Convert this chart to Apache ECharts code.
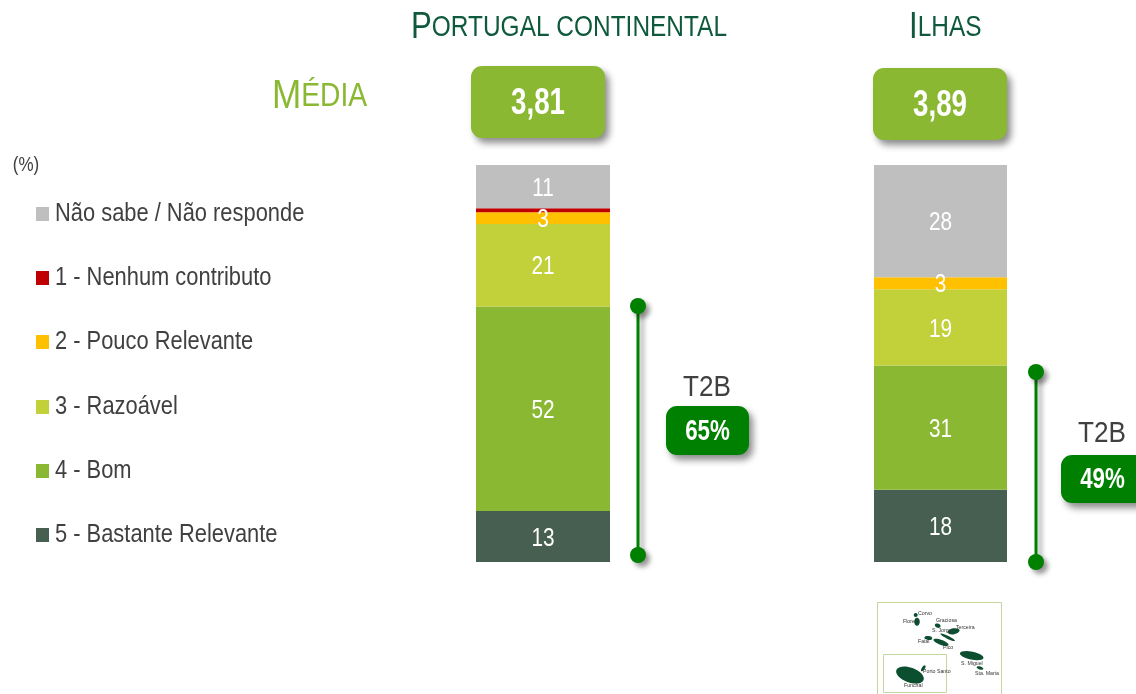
<!DOCTYPE html>
<html>
<head>
<meta charset="utf-8">
<style>html,body{margin:0;padding:0;background:#fff;overflow:hidden}#chart{width:1136px;height:694px}</style>
<script src="https://cdn.jsdelivr.net/npm/echarts@6/dist/echarts.min.js"></script>
</head>
<body>
<div id="chart"></div>
<script>
// categories, bottom of the stack first
var categories = ['5 - Bastante Relevante', '4 - Bom', '3 - Razoável', '2 - Pouco Relevante', '1 - Nenhum contributo', 'Não sabe / Não responde'];
var colors = ['#465f50', '#8bb833', '#c2d03a', '#ffc000', '#c00000', '#bfbfbf'];
var continente = [13, 52, 21, 3, 1, 11];
var ilhas = [18, 31, 19, 3, 0, 28];
var medias = ['3,81', '3,89'];
var t2b = ['65%', '49%'];

// no narrow face is installed, so text gets squeezed with scaleX
var FONT = '"Liberation Sans", Arial, sans-serif';
var NARROW = 0.8;
var DARK = '#0f5a3c', GREEN = '#008000', LIME = '#8bb833', TEXT = '#404040';

function sum(a) { return a.reduce(function (s, v) { return s + v; }, 0); }

// each column fills its own axis: the published figures are rounded and do not add to 100
function barSeries(values, axisIndex) {
    return categories.map(function (name, i) {
        return {
            name: name,
            type: 'bar',
            stack: 'col' + axisIndex,
            xAxisIndex: axisIndex,
            yAxisIndex: axisIndex,
            barWidth: '100%',
            itemStyle: { color: colors[i] },
            data: [values[i]]
        };
    });
}

// value labels, placed through the axis scale so they can be condensed
function labelSeries(values, axisIndex) {
    var base = 0, rows = [];
    values.forEach(function (v) {
        if (v > 1) rows.push([0, base + v / 2, v]);
        base += v;
    });
    return {
        type: 'custom',
        xAxisIndex: axisIndex,
        yAxisIndex: axisIndex,
        z: 5,
        silent: true,
        data: rows,
        renderItem: function (params, api) {
            var p = api.coord([api.value(0), api.value(1)]);
            return {
                type: 'text',
                x: p[0],
                y: p[1] + 2,
                scaleX: NARROW,
                style: {
                    text: String(api.value(2)),
                    fill: '#fff',
                    font: '26px ' + FONT,
                    textAlign: 'center',
                    textVerticalAlign: 'middle'
                }
            };
        }
    };
}

function label(text, x, y, size, fill, opts) {
    opts = opts || {};
    return {
        type: 'text',
        x: x,
        y: y,
        scaleX: opts.scale || NARROW,
        z: 10,
        style: {
            text: text,
            fill: fill,
            font: (opts.bold ? 'bold ' : '') + size + 'px ' + FONT,
            textAlign: opts.align || 'center',
            textVerticalAlign: 'middle'
        }
    };
}

function smallCaps(cap, rest, x, y, big, small, fill, scale) {
    return {
        type: 'text',
        x: x,
        y: y,
        scaleX: scale,
        style: {
            text: '{a|' + cap + '}{b|' + rest + '}',
            rich: {
                a: { fontFamily: FONT, fontSize: big, fill: fill, fontWeight: 'normal' },
                b: { fontFamily: FONT, fontSize: small, fill: fill, fontWeight: 'normal' }
            }
        }
    };
}

function badge(x, y, w, h, fill) {
    return {
        type: 'rect',
        shape: { x: x, y: y, width: w, height: h, r: 11 },
        style: { fill: fill, shadowBlur: 7, shadowOffsetX: 4, shadowOffsetY: 5, shadowColor: 'rgba(0,0,0,0.45)' }
    };
}

function bracket(x, y1, y2) {
    var shadow = { shadowBlur: 5, shadowOffsetX: 4, shadowOffsetY: 4, shadowColor: 'rgba(0,0,0,0.4)' };
    return [
        { type: 'line', shape: { x1: x, y1: y1, x2: x, y2: y2 }, style: Object.assign({ stroke: GREEN, lineWidth: 3 }, shadow) },
        { type: 'circle', shape: { cx: x, cy: y1, r: 8 }, style: Object.assign({ fill: GREEN }, shadow) },
        { type: 'circle', shape: { cx: x, cy: y2, r: 8 }, style: Object.assign({ fill: GREEN }, shadow) }
    ];
}

// legend drawn by hand, the built in one cannot condense its text
var legendRowsY = [535, 471, 407, 342, 278, 214];
var legendGraphics = [];
categories.forEach(function (name, i) {
    legendGraphics.push({ type: 'rect', shape: { x: 36, y: legendRowsY[i] - 7, width: 13, height: 14 }, style: { fill: colors[i] } });
    legendGraphics.push(label(name, 55, legendRowsY[i], 25, TEXT, { align: 'left', scale: 0.875 }));
});

// thumbnail map in the bottom right corner
var mapIslands = [
    [915.7, 615, 2, 2, 0], [917, 621.7, 2.8, 4, 0], [937.7, 625.7, 3, 2, -0.4], [953.7, 631.3, 6, 3, 0.2],
    [947.7, 637.3, 8, 1.5, -0.45], [928.3, 638, 4, 2, -0.1], [941, 642.3, 8, 2.5, -0.35],
    [971.7, 655.7, 12, 4, -0.2], [980, 668, 3.5, 1.5, -0.3], [910, 675, 14.5, 7.5, -0.35], [923.3, 668.3, 1.5, 3.5, -0.6]
];
var mapLabels = [
    ['Corvo', 918, 613], ['Flores', 903, 621], ['Graciosa', 936, 620], ['S. Jorge', 932, 630], ['Terceira', 956, 627],
    ['Faial', 918, 641], ['Pico', 943, 647], ['S. Miguel', 961, 663], ['Sta. Maria', 975, 673], ['Porto Santo', 923, 671], ['Funchal', 904, 685]
];

var mapGraphics = [
    { type: 'rect', shape: { x: 877.5, y: 602.5, width: 124, height: 100 }, style: { fill: '#fff', stroke: '#c3d69b', lineWidth: 1 } },
    { type: 'rect', shape: { x: 883.5, y: 654.5, width: 63, height: 38 }, style: { fill: '#fff', stroke: '#c3d69b', lineWidth: 1 } }
].concat(mapIslands.map(function (m) {
    return { type: 'ellipse', x: m[0], y: m[1], rotation: m[4], shape: { cx: 0, cy: 0, rx: m[2], ry: m[3] }, style: { fill: '#0b4f30' } };
})).concat(mapLabels.map(function (m) {
    return label(m[0], m[1], m[2], 5.5, '#333', { align: 'left', scale: 0.95 });
}));

var graphics = [
    smallCaps('P', 'ORTUGAL CONTINENTAL', 411, 9, 37, 29, DARK, 0.843),
    smallCaps('I', 'LHAS', 909, 9, 37, 29, DARK, 0.843),
    smallCaps('M', 'ÉDIA', 272, 76, 41, 33, LIME, 0.855),
    badge(471, 66, 134, 72, LIME),
    badge(873, 68, 134, 72, LIME),
    label(medias[0], 538, 104, 36, '#fff', { bold: true, scale: 0.77 }),
    label(medias[1], 940, 106, 36, '#fff', { bold: true, scale: 0.77 }),
    label('T2B', 707, 388, 30, TEXT, { scale: 0.87 }),
    label('T2B', 1102, 434, 30, TEXT, { scale: 0.87 }),
    badge(666, 406, 83, 49, GREEN),
    badge(1061, 455, 90, 48, GREEN),
    label(t2b[0], 707.5, 432, 29, '#fff', { bold: true, scale: 0.77 }),
    label(t2b[1], 1102.5, 480, 29, '#fff', { bold: true, scale: 0.77 }),
    label('(%)', 26, 165, 20, TEXT, { scale: 0.85 })
].concat(legendGraphics, bracket(638, 306, 555), bracket(1036, 372, 562), mapGraphics);

var chart = echarts.init(document.getElementById('chart'), null, { renderer: 'canvas' });
chart.setOption({
    animation: false,
    backgroundColor: '#fff',
    grid: [
        { left: 476, top: 165, width: 134, height: 397 },
        { left: 874, top: 165, width: 133, height: 397 }
    ],
    xAxis: [0, 1].map(function (i) {
        return { type: 'category', gridIndex: i, data: [''], show: false };
    }),
    yAxis: [continente, ilhas].map(function (vals, i) {
        return { type: 'value', gridIndex: i, min: 0, max: sum(vals), show: false };
    }),
    series: barSeries(continente, 0).concat(barSeries(ilhas, 1), labelSeries(continente, 0), labelSeries(ilhas, 1)),
    graphic: graphics
});
</script>
</body>
</html>
